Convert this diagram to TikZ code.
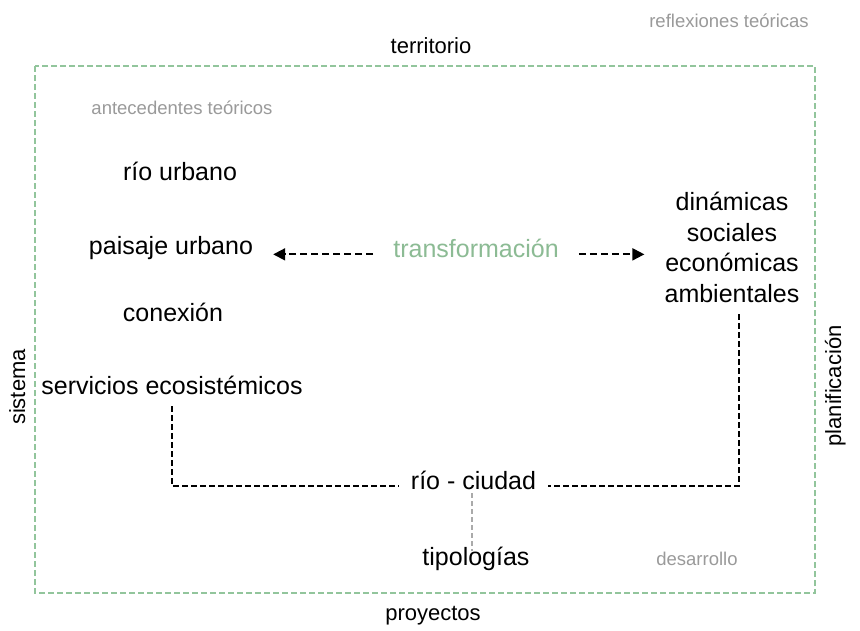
\documentclass[tikz,border=0pt]{standalone}
\usepackage{fontspec}
\setmainfont{Liberation Sans}
\usetikzlibrary{arrows.meta}
\definecolor{graytxt}{HTML}{9A9A9A}
\definecolor{greentxt}{HTML}{8CBB94}
\definecolor{greenline}{HTML}{92C59C}
\definecolor{grayline}{HTML}{AAAAAA}
\tikzset{
  lbl/.style={anchor=base, inner sep=0pt, text height=0.75em, text depth=0.22em, font=\fontsize{25}{30.5}\selectfont},
  edge/.style={anchor=base, inner sep=0pt, text height=0.75em, text depth=0.22em, font=\fontsize{22}{26}\selectfont},
  note/.style={anchor=base, inner sep=0pt, text=graytxt, font=\fontsize{18.5}{22}\selectfont},
  conn/.style={draw=black, line width=1.9pt, dash pattern=on 6pt off 3pt},
  dasharrow/.style={conn, dash pattern=on 7pt off 4pt, -{Triangle[length=12pt,width=12pt]}, shorten >=20pt, shorten <=20pt},
  frame/.style={draw=greenline, line width=1.7pt, dash pattern=on 6pt off 3pt},
}
\begin{document}
\begin{tikzpicture}[x=1pt,y=-1pt]
\useasboundingbox (0,0) rectangle (860,630);
\fill[white] (0,0) rectangle (860,630);
\draw[frame] (35,66) rectangle (815,593);

\node[note] (refl) at (729,27) {reflexiones teóricas};
\node[edge] (terr) at (431,53) {territorio};
\node[edge] (proy) at (433,620) {proyectos};
\node[edge, rotate=90] (sist) at (25,387) {sistema};
\node[edge, rotate=90] (plan) at (841,386) {planificación};

\node[note] (ante) at (182,114) {antecedentes teóricos};
\node[lbl] (rio) at (180,180) {río urbano};
\node[lbl] (pais) at (171,254) {paisaje urbano};
\node[lbl] (conex) at (173,321) {conexión};
\node[lbl] (serv) at (172,394) {servicios ecosistémicos};

\node[lbl, text=greentxt] (trans) at (476,257) {transformación};
\node[anchor=base, inner sep=0pt, align=center, font=\fontsize{25}{30.5}\selectfont] (dyn) at (732,302)
  {dinámicas\\sociales\\económicas\\ambientales};

\node[lbl, inner xsep=12pt] (rc) at (473.5,489) {río - ciudad};
\node[lbl] (tipo) at (476,565) {tipologías};
\node[note] (des) at (697,565) {desarrollo};

\draw[dasharrow] (trans.west) -- (trans.west -| pais.east);
\draw[dasharrow] (trans.east) -- (trans.east -| dyn.west);

\draw[conn, shorten <=10pt] (serv.south) |- (rc.west);
\draw[conn, shorten <=12pt] ([xshift=7pt]dyn.south) |- (rc.east);
\draw[draw=grayline, line width=1.5pt, dash pattern=on 5pt off 3pt, shorten <=2pt, shorten >=6pt]
  ([xshift=-1.5pt]rc.south) -- ([xshift=-1.5pt]rc.south |- tipo.north);
\end{tikzpicture}
\end{document}
